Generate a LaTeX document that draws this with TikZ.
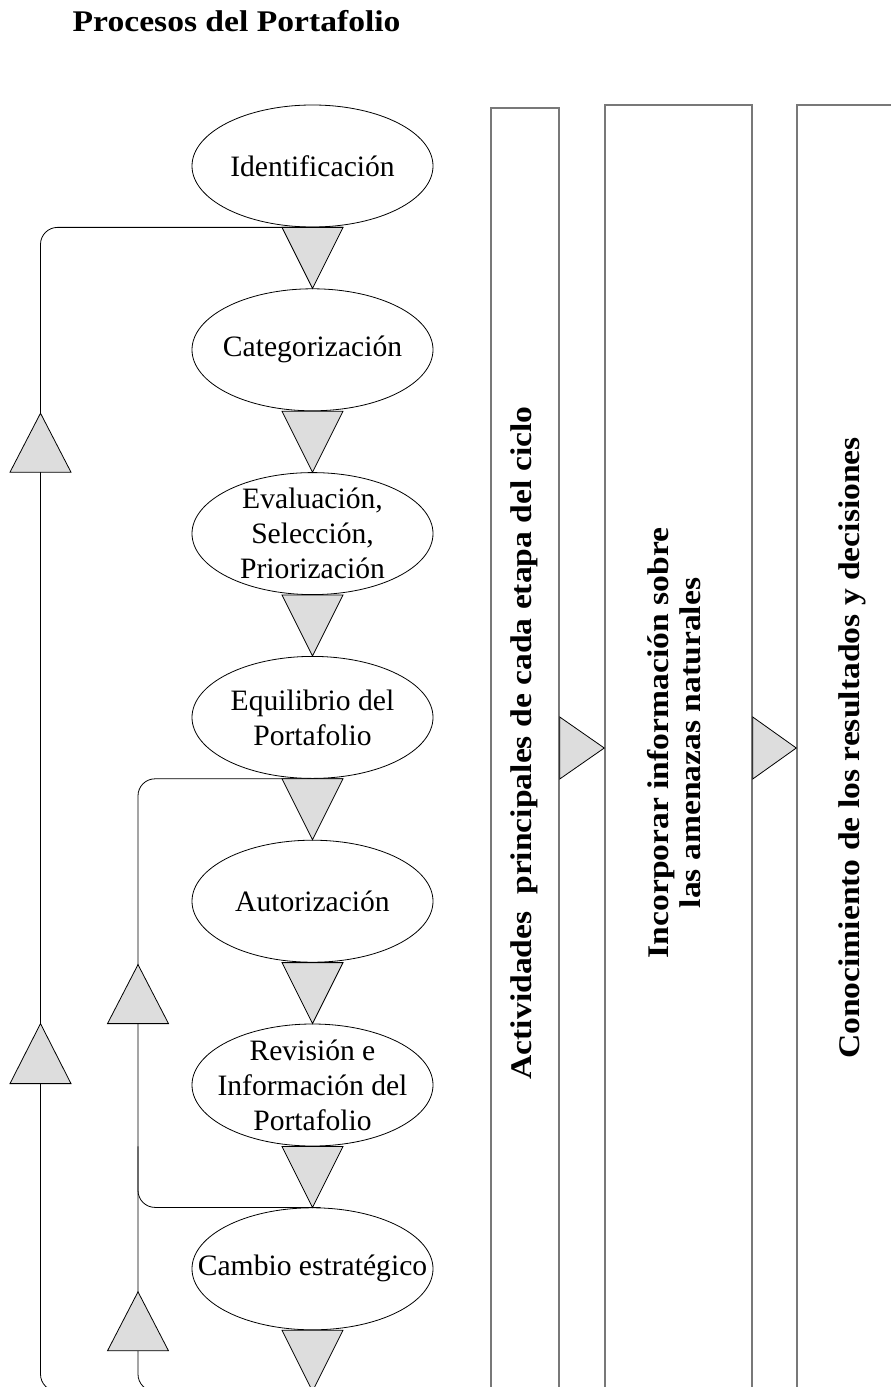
\documentclass[tikz,border=0pt]{standalone}
\usepackage{fontspec}
\setmainfont{Liberation Serif}[BoldFeatures={FakeStretch=1.12}]
\definecolor{relleno}{RGB}{221,221,221}
\definecolor{borde}{RGB}{120,120,120}
\usetikzlibrary{shapes.geometric,positioning,calc}

\begin{document}
\begin{tikzpicture}[
  x=0.75pt,y=-0.75pt,
  etapa/.style={ellipse,draw,line width=0.6pt,minimum width=180.75pt,minimum height=91.5pt,
                inner xsep=-30pt,inner ysep=-15pt,align=center,
                font=\fontsize{22.2}{26.25}\selectfont},
  flecha/.style={draw,fill=relleno,line width=0.6pt,line join=miter},
  lazo/.style={line width=0.6pt,rounded corners=12.75pt},
  panel/.style={rectangle,draw=borde,line width=1.1pt},
  vert/.style={rotate=90,align=center,font=\fontsize{22.5}{24.5}\selectfont\bfseries},
  node distance=45.75pt
]
  \clip (0,0) rectangle (891,1387);

  \node[anchor=base west,font=\fontsize{22.5}{26}\selectfont\bfseries] (titulo) at (68,32) {Procesos del Portafolio};

  \node[etapa] (ident) at (312.5,166) {Identificación};
  \node[etapa,below=of ident] (categ) {Categorización};
  \node[etapa,below=of categ] (eval) {Evaluación,\\Selección,\\Priorización};
  \node[etapa,below=of eval] (equil) {Equilibrio del\\Portafolio};
  \node[etapa,below=of equil] (autor) {Autorización};
  \node[etapa,below=of autor] (revis) {Revisión e\\Información del\\Portafolio};
  \node[etapa,below=of revis] (cambio) {Cambio estratégico};
  \coordinate (fin) at ($(cambio.south)+(0,61)$);

  \coordinate (ext) at (40.5,0);
  \coordinate (int) at (138,0);
  \draw[lazo] (fin) -| (ext |- ident.south) -- ($(ident.south)+(30.5,0)$);
  \draw[lazo] (fin) -| (int |- equil.south) -- ($(equil.south)+(30.5,0)$);
  \draw[lazo] (int |- revis.south) |- ($(cambio.north)+(8,0)$);

  \draw[flecha] ($(ident.south)+(-30.5,0)$) -- ($(ident.south)+(30.5,0)$) -- (categ.north) -- cycle;
  \draw[flecha] ($(categ.south)+(-30.5,0)$) -- ($(categ.south)+(30.5,0)$) -- (eval.north) -- cycle;
  \draw[flecha] ($(eval.south)+(-30.5,0)$) -- ($(eval.south)+(30.5,0)$) -- (equil.north) -- cycle;
  \draw[flecha] ($(equil.south)+(-30.5,0)$) -- ($(equil.south)+(30.5,0)$) -- (autor.north) -- cycle;
  \draw[flecha] ($(autor.south)+(-30.5,0)$) -- ($(autor.south)+(30.5,0)$) -- (revis.north) -- cycle;
  \draw[flecha] ($(revis.south)+(-30.5,0)$) -- ($(revis.south)+(30.5,0)$) -- (cambio.north) -- cycle;
  \draw[flecha] ($(cambio.south)+(-30.5,0)$) -- ($(cambio.south)+(30.5,0)$) -- (fin) -- cycle;

  \draw[flecha] ($(ext |- eval.north)+(-30.5,0)$) -- ($(ext |- eval.north)+(30.5,0)$) -- ($(ext |- categ.south)+(0,2)$) -- cycle;
  \draw[flecha] ($(ext |- revis.north)+(-30.5,60)$) -- ($(ext |- revis.north)+(30.5,60)$) -- (ext |- revis.north) -- cycle;
  \draw[flecha] ($(int |- revis.north)+(-30.5,0)$) -- ($(int |- revis.north)+(30.5,0)$) -- ($(int |- autor.south)+(0,2)$) -- cycle;
  \draw[flecha] ($(int |- cambio)+(-30.5,82)$) -- ($(int |- cambio)+(30.5,82)$) -- ($(int |- cambio)+(0,23)$) -- cycle;

  \node[panel,minimum width=51pt,minimum height=969pt] (act) at (525,754) {};
  \node[panel,minimum width=110.25pt,minimum height=971.25pt] (amen) at (678.5,752.5) {};
  \node[panel,minimum width=81pt,minimum height=971.25pt] (conoc) at (851,752.5) {};

  \coordinate (med) at (0,748);
  \draw[flecha] ($(act.east |- med)+(0,-31)$) -- ($(act.east |- med)+(0,31)$) -- (amen.west |- med) -- cycle;
  \draw[flecha] ($(amen.east |- med)+(0,-31)$) -- ($(amen.east |- med)+(0,31)$) -- (conoc.west |- med) -- cycle;

  \node[vert] (txact) at (524,743) {Actividades\ \ principales de cada etapa del ciclo};
  \node[vert] (txamen) at (674,743) {Incorporar información sobre\\las amenazas naturales};
  \node[vert] (txconoc) at (852,748) {Conocimiento de los resultados y decisiones};
\end{tikzpicture}
\end{document}
